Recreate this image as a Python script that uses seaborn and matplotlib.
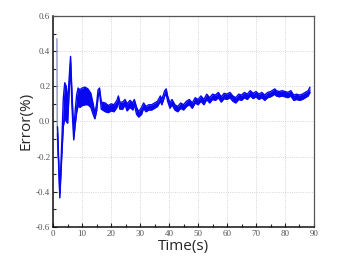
import matplotlib
matplotlib.use("Agg")
import matplotlib.pyplot as plt
import numpy as np
import pandas as pd
import seaborn as sns

# Error band: time (s), band centre and half-width (%)
time_s = [1.5, 2.3, 3.0, 3.5, 4.0, 4.5, 5.0, 5.5, 6.0, 6.5, 7.1, 7.6, 8.1, 8.6, 9.2,
          10, 11, 12, 13, 13.8, 14.4, 15.0, 15.5, 16.0, 16.6, 18, 19, 20, 21, 22,
          22.5, 23, 24, 24.8, 25.5, 26.5, 27.5, 28, 28.8, 29.5, 30.5, 31.2, 32, 33, 34,
          35, 36, 37, 37.5, 38.5, 39, 39.5, 40.3, 41, 42, 43, 44, 45, 46, 47,
          48, 49, 50, 51, 52, 53, 54, 55, 56, 57, 58, 59, 60, 61, 62,
          63, 64, 65, 66, 67, 68, 69, 70, 71, 72, 73, 74, 75, 76.5, 77,
          78, 79, 80, 81, 82, 83, 84, 85, 86, 87, 88, 88.6]
err_mid = [-0.05, -0.42, -0.15, 0.05, 0.12, 0.10, 0.05, 0.20, 0.35, 0.12, -0.08, 0.02, 0.10, 0.14, 0.13,
           0.14, 0.145, 0.14, 0.12, 0.07, 0.03, 0.08, 0.16, 0.18, 0.09, 0.08, 0.07, 0.08, 0.075, 0.10,
           0.13, 0.09, 0.09, 0.11, 0.08, 0.10, 0.085, 0.11, 0.06, 0.04, 0.06, 0.09, 0.07, 0.08, 0.08,
           0.09, 0.10, 0.13, 0.11, 0.16, 0.17, 0.13, 0.09, 0.11, 0.08, 0.07, 0.09, 0.08, 0.10, 0.11,
           0.09, 0.12, 0.11, 0.13, 0.11, 0.14, 0.12, 0.14, 0.135, 0.15, 0.125, 0.145, 0.14, 0.15, 0.13,
           0.12, 0.14, 0.135, 0.15, 0.14, 0.16, 0.145, 0.155, 0.14, 0.15, 0.135, 0.15, 0.155, 0.17, 0.16,
           0.155, 0.16, 0.155, 0.15, 0.16, 0.135, 0.14, 0.135, 0.14, 0.15, 0.16, 0.18]
err_half = [0.02, 0.015, 0.04, 0.08, 0.10, 0.10, 0.06, 0.04, 0.02, 0.04, 0.025, 0.04, 0.05, 0.05, 0.05,
            0.05, 0.05, 0.045, 0.04, 0.03, 0.015, 0.02, 0.02, 0.01, 0.02, 0.025, 0.02, 0.02, 0.02, 0.02,
            0.015, 0.02, 0.02, 0.015, 0.02, 0.02, 0.02, 0.015, 0.02, 0.015, 0.02, 0.015, 0.015, 0.015, 0.015,
            0.015, 0.015, 0.015, 0.015, 0.015, 0.015, 0.015, 0.015, 0.015, 0.015, 0.015, 0.015, 0.015, 0.015, 0.015,
            0.015, 0.015, 0.015, 0.015, 0.015, 0.015, 0.015, 0.015, 0.015, 0.015, 0.015, 0.015, 0.015, 0.015, 0.015,
            0.015, 0.015, 0.015, 0.015, 0.015, 0.015, 0.015, 0.015, 0.015, 0.015, 0.015, 0.015, 0.015, 0.015, 0.015,
            0.015, 0.015, 0.015, 0.015, 0.015, 0.015, 0.015, 0.015, 0.015, 0.015, 0.015, 0.015]

# first sample: thin spike at start
spike_t = [1.3, 1.4, 1.6]
spike_v = [0.47, 0.0, -0.2]

x_ticks = [0, 10, 20, 30, 40, 50, 60, 70, 80, 90]
y_ticks = [-0.6, -0.4, -0.2, 0.0, 0.2, 0.4, 0.6]

df = pd.DataFrame({"t": time_s, "mid": err_mid, "half": err_half})
df["lo"] = df["mid"] - df["half"]
df["hi"] = df["mid"] + df["half"]

sns.set_style("white")
fig = plt.figure(figsize=(3.52, 2.57), dpi=100)
ax = fig.add_axes([0.151, 0.117, 0.741, 0.821])

blue = "#0808f0"
ax.plot(spike_t, spike_v, color="#8f95c8", lw=1.0)
ax.fill_between(df["t"], df["lo"], df["hi"], color=blue, lw=0)
sns.lineplot(data=df, x="t", y="lo", ax=ax, color=blue, lw=1.0)
sns.lineplot(data=df, x="t", y="hi", ax=ax, color=blue, lw=1.0)

ax.set_xlim(0, 90)
ax.set_ylim(-0.6, 0.6)
ax.set_xticks(x_ticks)
ax.set_yticks(y_ticks)
ax.set_xticklabels([str(v) for v in x_ticks], family="Liberation Serif", fontsize=6.5, color="#555555")
ax.set_yticklabels([f"{v:.1f}" for v in y_ticks], family="Liberation Serif", fontsize=6.5, color="#555555")
ax.set_xticks(np.arange(5, 90, 10), minor=True)
ax.set_yticks(np.arange(-0.5, 0.6, 0.2), minor=True)
ax.tick_params(which="major", direction="in", length=3, width=0.8, color="#222222",
               left=True, bottom=True, pad=2)
ax.tick_params(which="minor", direction="in", length=2, width=0.8, color="#222222",
               left=True, bottom=True)
ax.grid(True, which="major", ls=":", lw=0.6, color="#c8c8c8")

for side in ["left", "bottom"]:
    ax.spines[side].set_color("#111111")
    ax.spines[side].set_linewidth(1.1)
for side in ["top", "right"]:
    ax.spines[side].set_color("#555555")
    ax.spines[side].set_linewidth(0.9)

ax.set_xlabel("Time(s)", family="Open Sans", fontsize=11, labelpad=1)
ax.set_ylabel("Error(%)", family="Open Sans", fontsize=11, labelpad=2)

fig.savefig("out.png", dpi=100)
